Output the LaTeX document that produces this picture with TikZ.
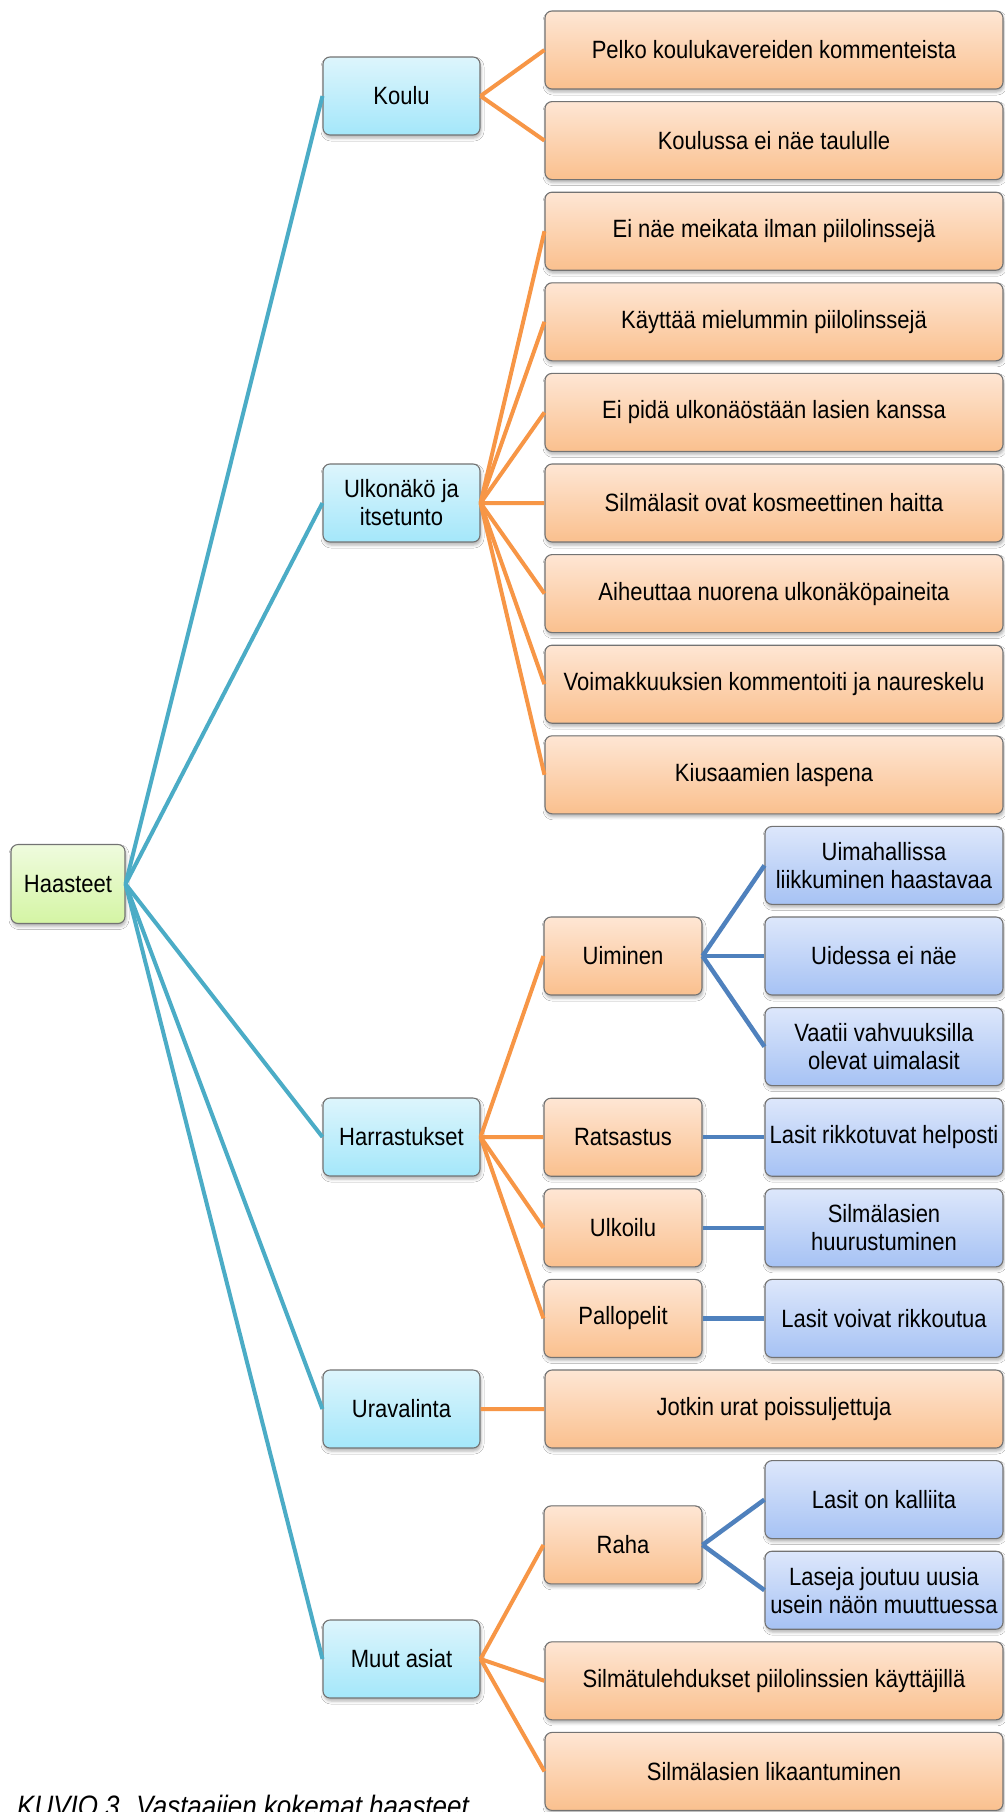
\documentclass[tikz,border=0pt]{standalone}
\usepackage{fontspec}
\setmainfont[FakeStretch=0.88]{Liberation Sans}
\usetikzlibrary{shadows,shadows.blur}
\definecolor{tealc}{HTML}{4BACC6}
\definecolor{orc}{HTML}{F79646}
\definecolor{blc}{HTML}{4F81BD}
\definecolor{gtop}{HTML}{EFFBDE}
\definecolor{gbot}{HTML}{D4F5A4}
\definecolor{ctop}{HTML}{DDF5FC}
\definecolor{cbot}{HTML}{A4E7FA}
\definecolor{otop}{HTML}{FEE6D4}
\definecolor{obot}{HTML}{FAC08E}
\definecolor{btop}{HTML}{DDE7FB}
\definecolor{bbot}{HTML}{A6C2F4}
\begin{document}
\begin{tikzpicture}[x=1pt,y=-1pt,
  box/.style={rounded corners=7pt, draw=black!55, line width=1.1pt,
    minimum height=78pt, align=center, inner sep=2pt,
    font=\fontsize{25}{28}\selectfont,
    blur shadow={shadow xshift=1pt, shadow yshift=-3pt, shadow blur radius=3pt, shadow opacity=30}},
  rootbox/.style={box, top color=gtop, bottom color=gbot, minimum width=114pt, minimum height=79pt},
  catbox/.style={box, top color=ctop, bottom color=cbot, minimum width=157pt},
  midbox/.style={box, top color=otop, bottom color=obot, minimum width=158pt},
  widebox/.style={box, top color=otop, bottom color=obot, minimum width=458pt},
  bluebox/.style={box, top color=btop, bottom color=bbot, minimum width=238pt},
  tline/.style={draw=tealc, line width=4pt},
  oline/.style={draw=orc, line width=4pt},
  bline/.style={draw=blc, line width=4.5pt}]
\useasboundingbox (0,0) rectangle (1005,1812);
\clip (0,0) rectangle (1005,1812);
\fill[white] (0,0) rectangle (1005,1812);

% root
\node[rootbox] (H) at (68,884) {Haasteet};

% categories
\node[catbox] (K) at (401.5,96) {Koulu};
\node[catbox] (U) at (401.5,503) {Ulkonäkö ja\\itsetunto};
\node[catbox] (R) at (401.5,1137) {Harrastukset};
\node[catbox] (V) at (401.5,1409) {Uravalinta};
\node[catbox] (M) at (401.5,1659) {Muut asiat};

% wide orange leaves
\node[widebox] (w0) at (774,{50+90.6*0}) {Pelko koulukavereiden kommenteista};
\node[widebox] (w1) at (774,{50+90.6*1}) {Koulussa ei näe taululle};
\node[widebox] (w2) at (774,{50+90.6*2}) {Ei näe meikata ilman piilolinssejä};
\node[widebox] (w3) at (774,{50+90.6*3}) {Käyttää mielummin piilolinssejä};
\node[widebox] (w4) at (774,{50+90.6*4}) {Ei pidä ulkonäöstään lasien kanssa};
\node[widebox] (w5) at (774,{50+90.6*5}) {Silmälasit ovat kosmeettinen haitta};
\node[widebox] (w6) at (774,{50+90.6*6}) {Aiheuttaa nuorena ulkonäköpaineita};
\node[widebox] (w7) at (774,{50+90.6*7}) {Voimakkuuksien kommentoiti ja naureskelu};
\node[widebox] (w8) at (774,{50+90.6*8}) {Kiusaamien laspena};
\node[widebox] (w15) at (774,{50+90.6*15}) {Jotkin urat poissuljettuja};
\node[widebox] (w18) at (774,{50+90.6*18}) {Silmätulehdukset piilolinssien käyttäjillä};
\node[widebox] (w19) at (774,{50+90.6*19}) {Silmälasien likaantuminen};

% middle orange
\node[midbox] (m1) at (623,{50+90.6*10}) {Uiminen};
\node[midbox] (m2) at (623,{50+90.6*12}) {Ratsastus};
\node[midbox] (m3) at (623,{50+90.6*13}) {Ulkoilu};
\node[midbox] (m4) at (623,{50+90.6*14}) {Pallopelit};
\node[midbox] (m5) at (623,{50+90.6*16.5}) {Raha};

% blue leaves
\node[bluebox] (b9) at (884,{50+90.6*9}) {Uimahallissa\\liikkuminen haastavaa};
\node[bluebox] (b10) at (884,{50+90.6*10}) {Uidessa ei näe};
\node[bluebox] (b11) at (884,{50+90.6*11}) {Vaatii vahvuuksilla\\olevat uimalasit};
\node[bluebox] (b12) at (884,{50+90.6*12}) {Lasit rikkotuvat helposti};
\node[bluebox] (b13) at (884,{50+90.6*13}) {Silmälasien\\huurustuminen};
\node[bluebox] (b14) at (884,{50+90.6*14}) {Lasit voivat rikkoutua};
\node[bluebox] (b16) at (884,{50+90.6*16}) {Lasit on kalliita};
\node[bluebox] (b17) at (884,{50+90.6*17}) {Laseja joutuu uusia\\usein näön muuttuessa};

% connectors root -> categories
\foreach \c in {K,U,R,V,M} \draw[tline] (H.east) -- (\c.west);
% Koulu
\foreach \c in {w0,w1} \draw[oline] (K.east) -- (\c.west);
% Ulkonako
\foreach \c in {w2,w3,w4,w5,w6,w7,w8} \draw[oline] (U.east) -- (\c.west);
% Harrastukset
\foreach \c in {m1,m2,m3,m4} \draw[oline] (R.east) -- (\c.west);
% Uravalinta
\draw[oline] (V.east) -- (w15.west);
% Muut asiat
\foreach \c in {m5,w18,w19} \draw[oline] (M.east) -- (\c.west);
% blue
\foreach \c in {b9,b10,b11} \draw[bline] (m1.east) -- (\c.west);
\draw[bline] (m2.east) -- (b12.west);
\draw[bline] (m3.east) -- (b13.west);
\draw[bline] (m4.east) -- (b14.west);
\foreach \c in {b16,b17} \draw[bline] (m5.east) -- (\c.west);

% caption (cut by the lower edge, as in the reference)
\node[anchor=base west, inner sep=0pt, font=\fontsize{29.5}{32}\selectfont\itshape] (cap) at (17,1816) {KUVIO 3. Vastaajien kokemat haasteet};
\end{tikzpicture}
\end{document}
